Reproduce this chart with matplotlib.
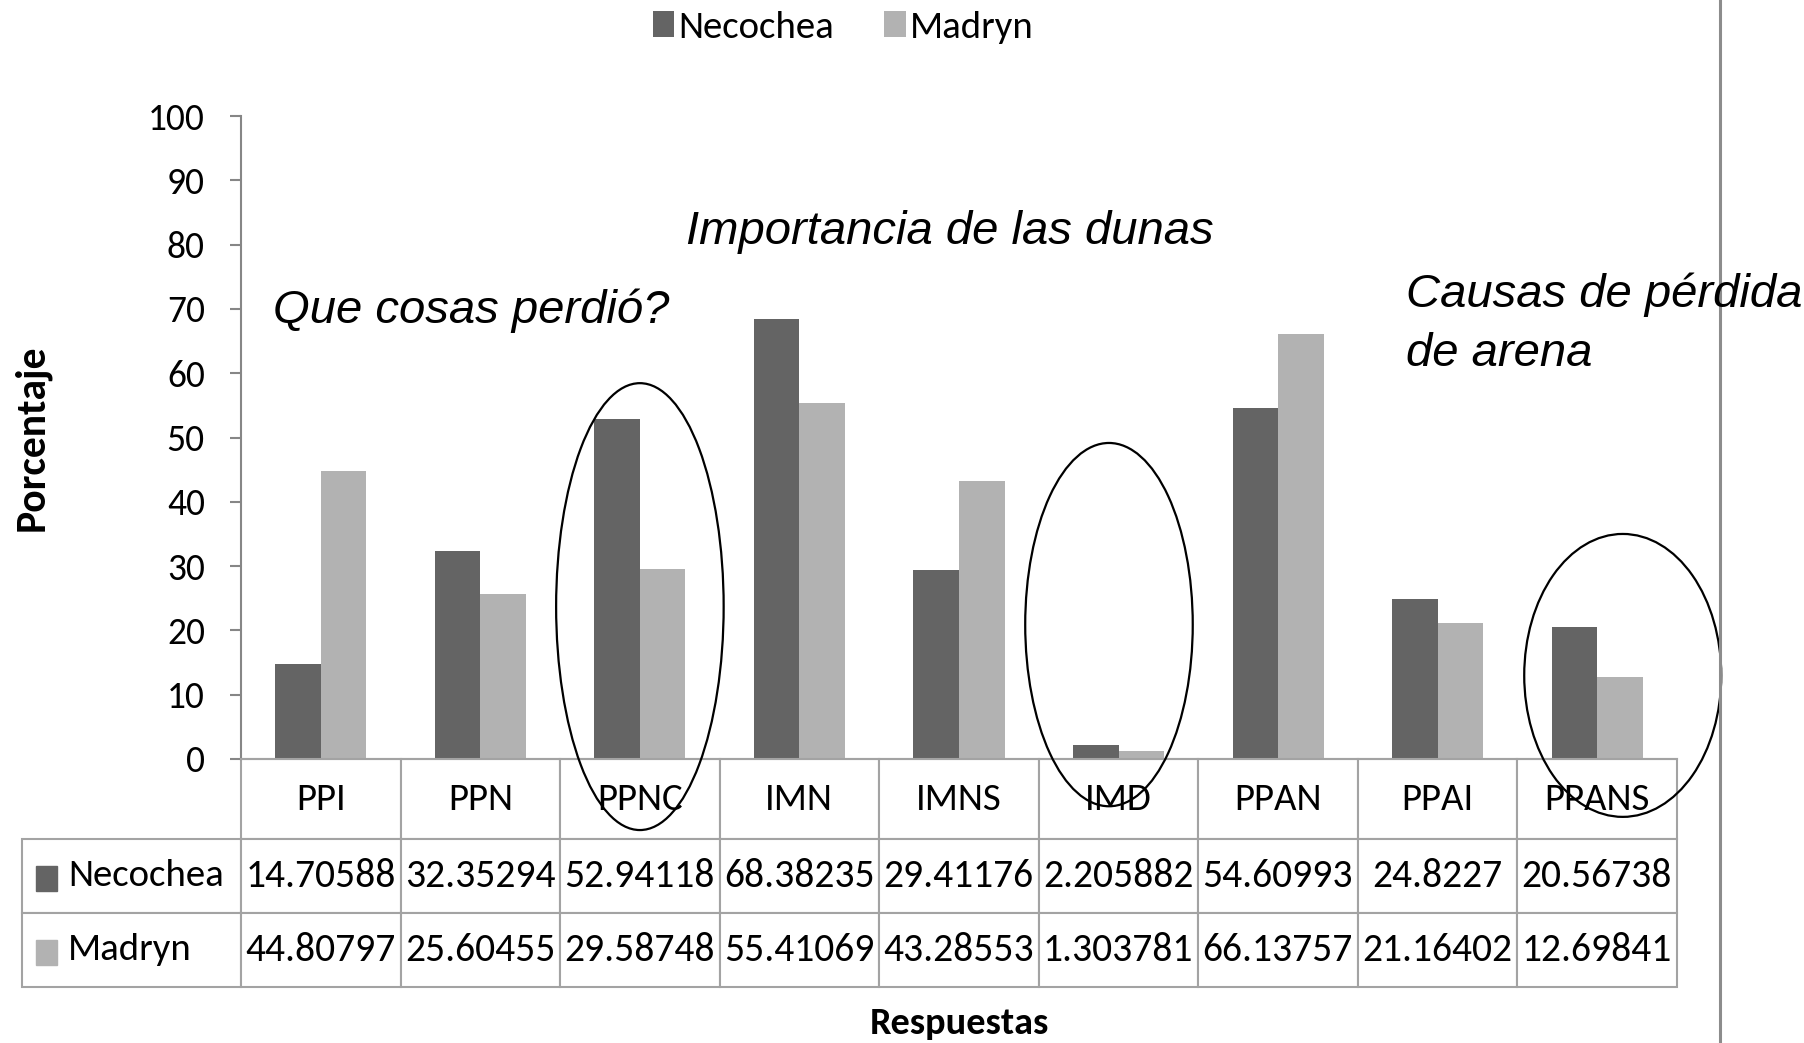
import matplotlib
matplotlib.use('Agg')
import matplotlib.pyplot as plt
from matplotlib.patches import Ellipse, Rectangle
from matplotlib.lines import Line2D
from matplotlib.table import Table
import numpy as np

categories = ['PPI', 'PPN', 'PPNC', 'IMN', 'IMNS', 'IMD', 'PPAN', 'PPAI', 'PPANS']
necochea = [14.70588, 32.35294, 52.94118, 68.38235, 29.41176, 2.205882, 54.60993, 24.8227, 20.56738]
madryn = [44.80797, 25.60455, 29.58748, 55.41069, 43.28553, 1.303781, 66.13757, 21.16402, 12.69841]
series_names = ['Necochea', 'Madryn']
yticks = list(range(0, 101, 10))

# hand drawn ellipses: (x in categories, y centre in %, width in categories, height in %)
circled = [(2.0, 23.7, 1.05, 69.5), (4.94, 20.9, 1.05, 56.5), (8.16, 13.0, 1.235, 44.0)]

dark = '#646464'
light = '#b2b2b2'
grid_gray = '#a3a3a3'
axis_gray = '#868686'

calibri = ['Carlito', 'Liberation Sans', 'DejaVu Sans']
arial = ['Liberation Sans', 'DejaVu Sans']

W, H = 1804, 1043
fig = plt.figure(figsize=(W / 100, H / 100), dpi=100)
ax = fig.add_axes([241 / W, 1 - 759 / H, (1677 - 241) / W, (759 - 116) / H])

x = np.arange(len(categories))
bw = 1 / 3.5  # excel gap width 150%
b1 = ax.bar(x - bw / 2, necochea, bw, color=dark, linewidth=0, label=series_names[0])
b2 = ax.bar(x + bw / 2, madryn, bw, color=light, linewidth=0, label=series_names[1])

ax.set_xlim(-0.5, len(categories) - 0.5)
ax.set_ylim(0, 100)
ax.set_yticks(yticks)
ax.set_xticks([])
ax.spines['top'].set_visible(False)
ax.spines['right'].set_visible(False)
ax.spines['left'].set_color(axis_gray)
ax.spines['left'].set_linewidth(1.5)
ax.spines['bottom'].set_color(grid_gray)
ax.spines['bottom'].set_linewidth(1.5)
ax.tick_params(axis='y', direction='out', length=8, width=1.5, color=axis_gray, pad=18, labelsize=27)
for lbl in ax.get_yticklabels():
    lbl.set_fontfamily(calibri)

# data table under the axis
label_w, col_w = 219, 159.5
head_h, row_h = 80, 74
tot_w = label_w + col_w * len(categories)
tot_h = head_h + 2 * row_h
ax_w, ax_h = 1677 - 241, 759 - 116
tbl = Table(ax, bbox=[-label_w / ax_w, -tot_h / ax_h, tot_w / ax_w, tot_h / ax_h])
tbl.auto_set_font_size(False)
for j, cat in enumerate(categories):
    c = tbl.add_cell(0, j + 1, width=col_w, height=head_h, text=cat, loc='center')
    c.get_text().set_fontfamily(calibri)
    c.get_text().set_fontsize(28)
for i, (name, vals) in enumerate(zip(series_names, [necochea, madryn])):
    c = tbl.add_cell(i + 1, 0, width=label_w, height=row_h, text=name, loc='left')
    c.PAD = 0.21
    c.get_text().set_fontfamily(calibri)
    c.get_text().set_fontsize(28)
    for j, v in enumerate(vals):
        c = tbl.add_cell(i + 1, j + 1, width=col_w, height=row_h, text='{:.7g}'.format(v), loc='center')
        c.get_text().set_fontfamily(calibri)
        c.get_text().set_fontsize(28.5)
for cell in tbl.get_celld().values():
    cell.set_edgecolor(grid_gray)
    cell.set_linewidth(1.5)
ax.add_table(tbl)

ax.set_ylabel('Porcentaje', fontweight='bold', fontsize=30, family=calibri, va='center')
ax.yaxis.set_label_coords((32 - 241) / ax_w, 0.5)
ax.set_xlabel('Respuestas', fontweight='bold', fontsize=27.5, family=calibri, va='center')
ax.xaxis.set_label_coords(0.5, (759 - 1023) / ax_h)

for cx, cy, ew, eh in circled:
    ax.add_patch(Ellipse((cx, cy), ew, eh, fill=False, edgecolor='black', linewidth=1.6,
                         clip_on=False, zorder=6))

fig.legend(handles=[b1, b2], loc='upper center', bbox_to_anchor=(843 / W, 1 - 5 / H), ncol=2,
           frameon=False, prop={'family': calibri, 'size': 28}, handlelength=0.55,
           handleheight=0.65, handletextpad=0.1, columnspacing=1.3, borderpad=0.15,
           borderaxespad=0)

fig.text(273 / W, 1 - 311 / H, 'Que cosas perdió?', style='italic', family=arial, size=34, va='center')
fig.text(686 / W, 1 - 232 / H, 'Importancia de las dunas', style='italic', family=arial, size=34, va='center')
fig.text(1406 / W, 1 - 324 / H, 'Causas de pérdida\nde arena', style='italic', family=arial, size=34,
         va='center', linespacing=1.45)

fig.add_artist(Line2D([1720 / W, 1720 / W], [0, 1], transform=fig.transFigure, color='#8c8c8c', lw=2.2))

# small colour keys in the row label cells
fig.canvas.draw()
for i, col in enumerate([dark, light]):
    cell = tbl[i + 1, 0]
    kx = cell.get_x() + cell.get_width() * (14 / label_w)
    ky = cell.get_y() + cell.get_height() * 0.5
    kw, kh = 21 / ax_w, 25 / ax_h
    ax.add_patch(Rectangle((kx, ky - kh * 0.6), kw, kh, transform=ax.transAxes, color=col,
                           clip_on=False, zorder=5))

fig.savefig('out.png', dpi=100)
